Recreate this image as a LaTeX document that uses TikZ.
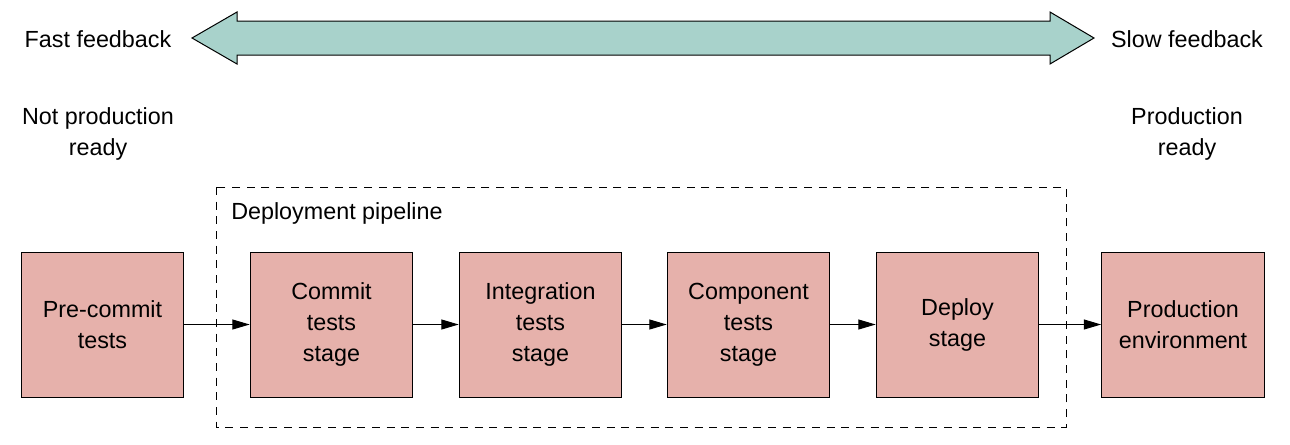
\documentclass[tikz,border=0pt]{standalone}
\usepackage{fontspec}
\setmainfont{Liberation Sans}
\usetikzlibrary{arrows.meta}

\definecolor{stagepink}{RGB}{230,177,171}
\definecolor{feedbackteal}{RGB}{168,210,203}

\tikzset{
  stagebox/.style={draw, line width=0.75pt, fill=stagepink, minimum width=122pt, minimum height=108.75pt, align=center, inner sep=0pt},
  flowarrow/.style={-{Triangle[length=13pt,width=7.5pt]}, line width=0.75pt},
  label/.style={align=center}
}

\begin{document}
\begin{tikzpicture}[x=0.75pt,y=0.75pt,yscale=-1,xscale=1,font=\fontsize{17.5}{23.25}\selectfont]
\useasboundingbox (0,0) rectangle (1290,444);

%Shape: Double Arrow
\draw [fill=feedbackteal, line width=0.75pt] (192,38) -- (237,12) -- (237,21) -- (1050,21) -- (1050,12) -- (1094,38) -- (1050,64) -- (1050,55) -- (237,55) -- (237,64) -- cycle ;

% Text Node
\node [label] (fast) at (98,39) {Fast feedback};
% Text Node
\node [label] (slow) at (1187,39) {Slow feedback};
% Text Node
\node [label] (notready) at (98,134) {Not production\\ready};
% Text Node
\node [label] (ready) at (1187,134) {Production\\ready};

%Shape: Dashed Rectangle
\draw [dash pattern=on 6pt off 5pt, line width=0.75pt] (216,187) rectangle (1066,427) ;
% Text Node
\node [anchor=west, inner sep=0pt] (pipeline) at (231,213) {Deployment pipeline};

%Stages
\node [stagebox] (precommit) at (102.5,324.5) {Pre-commit\\tests};
\node [stagebox] (commit) at (331.5,324.5) {Commit\\tests\\stage};
\node [stagebox] (integration) at (540.5,324.5) {Integration\\tests\\stage};
\node [stagebox] (component) at (748.5,324.5) {Component\\tests\\stage};
\node [stagebox] (deploy) at (957.5,324.5) {Deploy\\stage};
\node [stagebox] (production) at (1183,324.5) {Production\\environment};

%Connectors
\draw [flowarrow] (precommit) -- (commit) ;
\draw [flowarrow] (commit) -- (integration) ;
\draw [flowarrow] (integration) -- (component) ;
\draw [flowarrow] (component) -- (deploy) ;
\draw [flowarrow] (deploy) -- (production) ;

\end{tikzpicture}
\end{document}
